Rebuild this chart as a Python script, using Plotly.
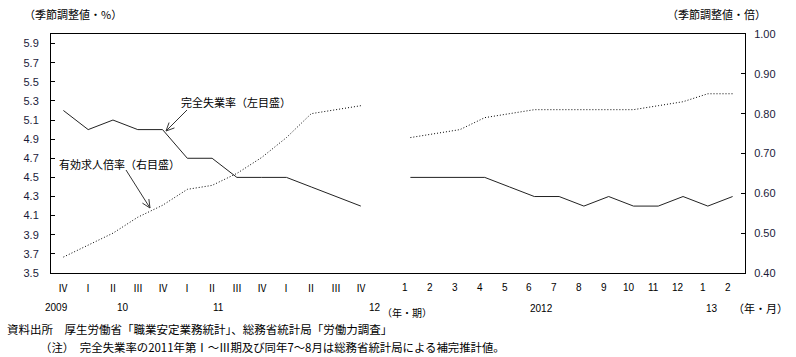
import math
import plotly.graph_objects as go

# ---------------- data ----------------
quarter_labels = ["Ⅳ", "Ⅰ", "Ⅱ", "Ⅲ", "Ⅳ", "Ⅰ", "Ⅱ", "Ⅲ", "Ⅳ", "Ⅰ", "Ⅱ", "Ⅲ", "Ⅳ"]
month_labels = ["1", "2", "3", "4", "5", "6", "7", "8", "9", "10", "11", "12", "1", "2"]
unemployment_q = [5.2, 5.0, 5.1, 5.0, 5.0, 4.7, 4.7, 4.5, 4.5, 4.5, 4.4, 4.3, 4.2]
unemployment_m = [4.5, 4.5, 4.5, 4.5, 4.4, 4.3, 4.3, 4.2, 4.3, 4.2, 4.2, 4.3, 4.2, 4.3]
ratio_q = [0.44, 0.47, 0.50, 0.54, 0.57, 0.61, 0.62, 0.65, 0.69, 0.74, 0.80, 0.81, 0.82]
ratio_m = [0.74, 0.75, 0.76, 0.79, 0.80, 0.81, 0.81, 0.81, 0.81, 0.81, 0.82, 0.83, 0.85, 0.85]
left_ticks = [3.5, 3.7, 3.9, 4.1, 4.3, 4.5, 4.7, 4.9, 5.1, 5.3, 5.5, 5.7, 5.9]
right_ticks = [0.40, 0.50, 0.60, 0.70, 0.80, 0.90, 1.00]
quarter_year_labels = ["2009", "10", "11", "12"]
month_year_labels = ["2012", "13"]
unit_quarter = "（年・期）"
unit_month = "（年・月）"
left_title = "（季節調整値・%）"
right_title = "（季節調整値・倍）"
label_unemp = "完全失業率（左目盛）"
label_ratio = "有効求人倍率（右目盛）"
source_note = "資料出所　厚生労働省「職業安定業務統計」、総務省統計局「労働力調査」"
footnote = "（注）　完全失業率の2011年第Ⅰ～Ⅲ期及び同年7～8月は総務省統計局による補完推計値。"

# ---------------- layout helpers ----------------
W, H = 796, 357
L, R, T, B = 51, 745, 34, 273
PW, PH = R - L, B - T

def xp(px):
    return (px - L) / PW

def yp(py):
    return (B - py) / PH

x_q = list(range(len(quarter_labels)))
gap = 1
x_m = [len(quarter_labels) + gap + i for i in range(len(month_labels))]
n_cat = len(quarter_labels) + gap + len(month_labels)

jp = "Noto Sans CJK JP"
num_font = "Liberation Sans"

fig = go.Figure()
fig.add_trace(go.Scatter(x=x_q, y=unemployment_q, mode="lines",
                         line=dict(color="#222222", width=1), yaxis="y", showlegend=False))
fig.add_trace(go.Scatter(x=x_m, y=unemployment_m, mode="lines",
                         line=dict(color="#222222", width=1), yaxis="y", showlegend=False))
fig.add_trace(go.Scatter(x=x_q, y=ratio_q, mode="lines",
                         line=dict(color="black", width=1, dash="1px,2px"), yaxis="y2", showlegend=False))
fig.add_trace(go.Scatter(x=x_m, y=ratio_m, mode="lines",
                         line=dict(color="black", width=1, dash="1px,2px"), yaxis="y2", showlegend=False))

ann = []
# x category labels
for i, t in zip(x_q, quarter_labels):
    ann.append(dict(x=i, y=yp(287), xref="x", yref="paper", text=t, showarrow=False,
                    font=dict(family=jp, size=10, color="black"), xanchor="center", yanchor="middle"))
for i, t in zip(x_m, month_labels):
    ann.append(dict(x=i - 0.2, y=yp(287), xref="x", yref="paper", text=t, showarrow=False,
                    font=dict(family=num_font, size=10, color="black"), xanchor="center", yanchor="middle"))
# year labels
q_year_px = [56, 123, 218, 375]
for px, t in zip(q_year_px, quarter_year_labels):
    ann.append(dict(x=xp(px), y=yp(307), xref="paper", yref="paper", text=t, showarrow=False,
                    font=dict(family=num_font, size=10, color="black"), xanchor="center", yanchor="middle"))
m_year_px = [541, 712]
for px, t in zip(m_year_px, month_year_labels):
    ann.append(dict(x=xp(px), y=yp(308), xref="paper", yref="paper", text=t, showarrow=False,
                    font=dict(family=num_font, size=10, color="black"), xanchor="center", yanchor="middle"))
ann.append(dict(x=xp(380), y=yp(312), xref="paper", yref="paper", text=unit_quarter, showarrow=False,
                font=dict(family=jp, size=10, color="black"), xanchor="left", yanchor="middle"))
ann.append(dict(x=xp(731), y=yp(308), xref="paper", yref="paper", text=unit_month, showarrow=False,
                font=dict(family=jp, size=11, color="black"), xanchor="left", yanchor="middle"))
# axis titles
ann.append(dict(x=xp(22), y=yp(14), xref="paper", yref="paper", text=left_title, showarrow=False,
                font=dict(family=jp, size=11, color="black"), xanchor="left", yanchor="middle"))
ann.append(dict(x=xp(768), y=yp(14), xref="paper", yref="paper", text=right_title, showarrow=False,
                font=dict(family=jp, size=11, color="black"), xanchor="right", yanchor="middle"))
# series labels
ann.append(dict(x=xp(236), y=yp(102), xref="paper", yref="paper", text=label_unemp, showarrow=False,
                font=dict(family=jp, size=11, color="black"), xanchor="center", yanchor="middle"))
ann.append(dict(x=xp(119), y=yp(164), xref="paper", yref="paper", text=label_ratio, showarrow=False,
                font=dict(family=jp, size=11, color="black"), xanchor="center", yanchor="middle"))
# footnotes
ann.append(dict(x=xp(5), y=yp(329), xref="paper", yref="paper", text=source_note, showarrow=False,
                font=dict(family=jp, size=11.5, color="black"), xanchor="left", yanchor="middle"))
ann.append(dict(x=xp(38), y=yp(347), xref="paper", yref="paper", text=footnote, showarrow=False,
                font=dict(family=jp, size=11.4, color="black"), xanchor="left", yanchor="middle"))

# arrows (drawn as line + open V head)
shapes = []
def arrow(tx, ty, hx, hy, wing=9, ang=25):
    dx, dy = hx - tx, hy - ty
    n = math.hypot(dx, dy)
    ux, uy = dx / n, dy / n
    shapes.append(dict(type="line", xref="paper", yref="paper",
                       x0=xp(tx), y0=yp(ty), x1=xp(hx), y1=yp(hy),
                       line=dict(color="#333333", width=1)))
    for s in (1, -1):
        a = math.radians(ang) * s
        wx = -(ux * math.cos(a) - uy * math.sin(a)) * wing
        wy = -(ux * math.sin(a) + uy * math.cos(a)) * wing
        shapes.append(dict(type="line", xref="paper", yref="paper",
                           x0=xp(hx), y0=yp(hy), x1=xp(hx + wx), y1=yp(hy + wy),
                           line=dict(color="#333333", width=1)))

arrow(187, 110, 166, 131)
arrow(126, 170, 150, 208)

fig.update_layout(
    width=W, height=H,
    margin=dict(l=L, r=W - R, t=T, b=H - B, pad=0),
    paper_bgcolor="white", plot_bgcolor="white",
    showlegend=False,
    xaxis=dict(range=[-0.5, n_cat - 0.5], showgrid=False, zeroline=False, showticklabels=False,
               ticks="", showline=True, linecolor="black", linewidth=1, mirror=True, fixedrange=True),
    yaxis=dict(range=[3.5, 6.0], tickvals=left_ticks, ticktext=[f"{v:.1f}" for v in left_ticks],
               showgrid=False, zeroline=False, ticks="inside", ticklen=4, tickcolor="black",
               showline=True, linecolor="black", linewidth=1, ticklabelstandoff=9,
               tickfont=dict(family=num_font, size=11, color="#1a1a3a")),
    yaxis2=dict(range=[0.4, 1.0], tickvals=right_ticks, ticktext=[f"{v:.2f}" for v in right_ticks],
                overlaying="y", side="right", showgrid=False, zeroline=False,
                ticks="inside", ticklen=4, tickcolor="black",
                showline=True, linecolor="black", linewidth=1, ticklabelstandoff=6,
                tickfont=dict(family=num_font, size=11, color="#1a1a3a")),
    annotations=ann,
    shapes=shapes,
)

fig.write_html("out.html", config={"displayModeBar": False},
               post_script="document.body.style.margin='0px';document.body.style.overflow='hidden';")
